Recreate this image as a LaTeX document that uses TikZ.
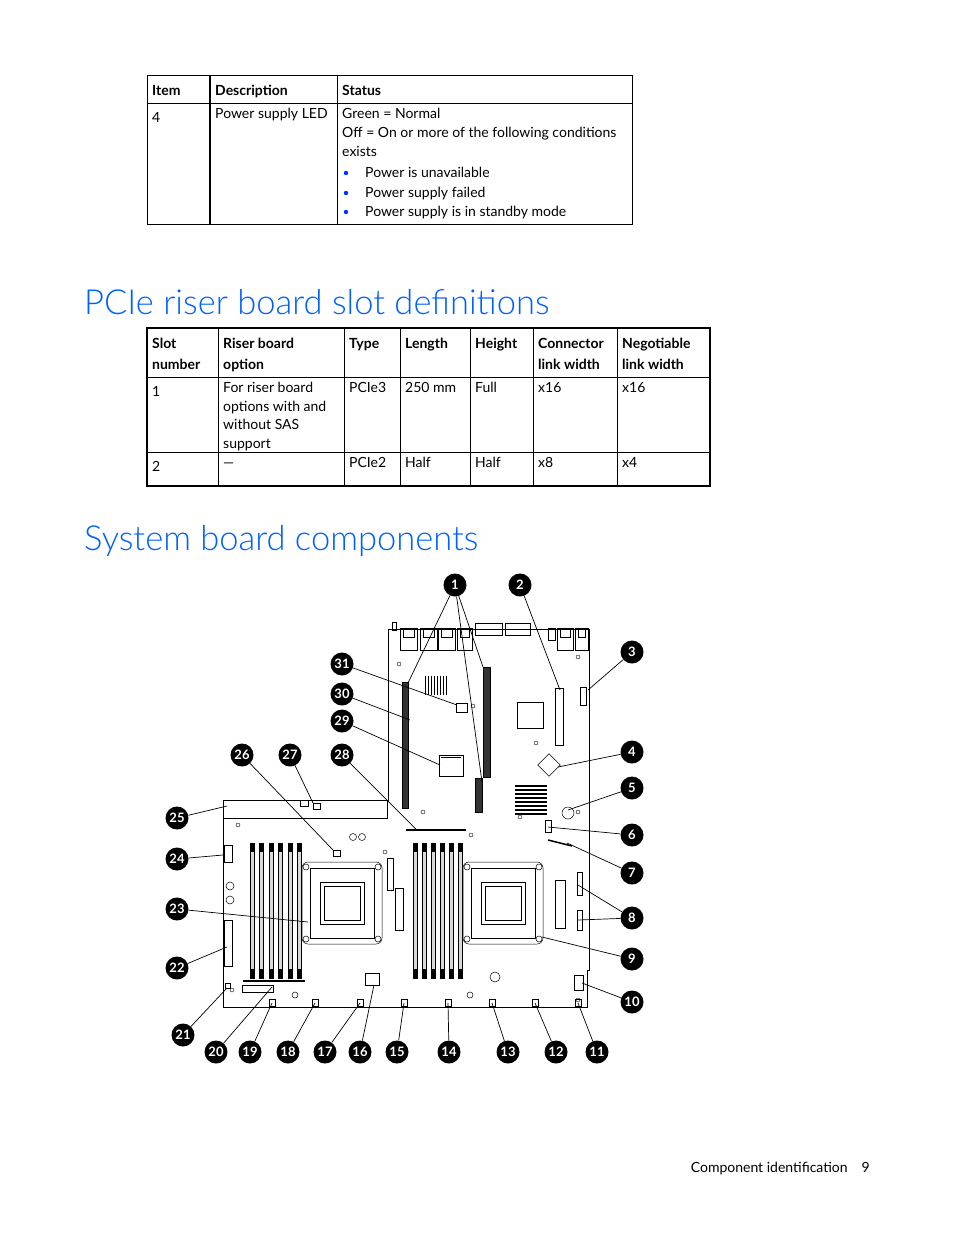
\documentclass[tikz,border=0pt]{standalone}
\usepackage{fontspec}
\setmainfont{Lato}
\newfontfamily\hfont{Lato Light}
\begin{document}
\begin{tikzpicture}[x=1pt,y=-1pt,
  tx/.style={anchor=base west,inner sep=0pt,font=\fontsize{14}{16}\selectfont},
  th/.style={anchor=base west,inner sep=0pt,font=\fontsize{14}{16}\selectfont\bfseries},
  hd/.style={anchor=base west,inner sep=0pt,font=\fontsize{34.5}{38}\selectfont\hfont,text={rgb,255:red,0;green,96;blue,255}},
  call/.style={circle,fill=black,inner sep=0pt,minimum size=23pt,text=white,font=\fontsize{13}{13}\selectfont\bfseries},
  lead/.style={line width=0.7pt},
  pcb/.style={line width=0.8pt},
  part/.style={draw,line width=0.5pt}]
\useasboundingbox (0,0) rectangle (954,1235);
% ---------- table 1
\draw[line width=0.8pt] (147,75) rectangle (632,224);
\draw[line width=0.8pt] (147,103) -- (632,103);
\draw[line width=1.4pt] (210,75) -- (210,224);
\draw[line width=0.6pt] (337,75) -- (337,224);
\node[th] (t1a) at (152,95) {Item};
\node[th] (t1b) at (215,95) {Description};
\node[th] (t1c) at (342,95) {Status};
\node[tx] (t1d) at (152,122) {4};
\node[tx] (t1e) at (215,118) {Power supply LED};
\node[tx] (t1f) at (342,118) {Green = Normal};
\node[tx] (t1g) at (342,137) {Off = On or more of the following conditions};
\node[tx] (t1h) at (342,156) {exists};
\foreach \y/\t [count=\i] in {177/Power is unavailable,197/Power supply failed,216/Power supply is in standby mode}{
  \fill[blue!80!cyan] (346,\y-4) circle (2.2pt);
  \node[tx] (b\i) at (365,\y) {\t};}
% ---------- heading 1
\node[hd] (h1) at (84,314) {PCIe riser board slot definitions};
% ---------- table 2
\draw[line width=1.2pt] (147,328) rectangle (710,486);
\draw[line width=0.8pt] (147,377) -- (710,377) (147,452) -- (710,452);
\foreach \x in {218,344,400,470,533,617} \draw[line width=0.6pt] (\x,328) -- (\x,486);
\node[th] (a1) at (152,348) {Slot};
\node[th] (a2) at (152,369) {number};
\node[th] (a3) at (223,348) {Riser board};
\node[th] (a4) at (223,369) {option};
\node[th] (a5) at (349,348) {Type};
\node[th] (a6) at (405,348) {Length};
\node[th] (a7) at (475,348) {Height};
\node[th] (a8) at (538,348) {Connector};
\node[th] (a9) at (538,369) {link width};
\node[th] (a10) at (622,348) {Negotiable};
\node[th] (a11) at (622,369) {link width};
\node[tx] (r1) at (152,396) {1};
\node[tx] (r2) at (223,392) {For riser board};
\node[tx] (r3) at (223,411) {options with and};
\node[tx] (r4) at (223,429) {without SAS};
\node[tx] (r5) at (223,448) {support};
\node[tx] (r6) at (349,392) {PCIe3};
\node[tx] (r7) at (405,392) {250 mm};
\node[tx] (r8) at (475,392) {Full};
\node[tx] (r9) at (538,392) {x16};
\node[tx] (r10) at (622,392) {x16};
\node[tx] (s1) at (152,471) {2};
\node[tx] (s2) at (223,467) {---};
\node[tx] (s3) at (349,467) {PCIe2};
\node[tx] (s4) at (405,467) {Half};
\node[tx] (s5) at (475,467) {Half};
\node[tx] (s6) at (538,467) {x8};
\node[tx] (s7) at (622,467) {x4};
% ---------- heading 2
\node[hd] (h2) at (84,550) {System board components};
% ---------- board outline
\draw[pcb] (223,800) -- (388,800) -- (388,629) -- (589,629) -- (589,970) -- (587,970) -- (587,1007) -- (223,1007) -- cycle;
% rear ports
\foreach \a/\b in {400/417,420/437,438/455,457/472,557/573,575/588}{
  \draw[part] (\a,628) rectangle (\b,650); \draw[part] (\a+3,628) rectangle (\b-3,637);}
\draw[part] (548,628) rectangle (555,640);
\draw[part] (475,623) rectangle (502,635); \draw[part] (505,623) rectangle (530,635);
\draw[part] (392,622) rectangle (396,630);
% riser connectors
\draw[part,fill=black!80] (402,682) rectangle (408,808);
\draw[part,fill=black!80] (483,667) rectangle (490,777);
\draw[part,fill=black!80] (475,778) rectangle (482,812);
\draw[part] (555,688) rectangle (563,745);
\draw[part] (517,702) rectangle (543,728);
% heatsinks
\foreach \y in {786,790,...,816} \draw[line width=1.6pt] (515,\y) -- (547,\y);
\foreach \x in {425,428,...,446} \draw[line width=1pt] (\x,676) -- (\x,695);
\draw[part] (456,703) rectangle (467,712);
\draw[part] (439,755) rectangle (463,776); \draw[part] (441,757) -- (461,757);
\draw[part,rotate around={45:(549,765)}] (541,757) rectangle (557,773);
\draw[part] (568,813) circle (6pt);
\draw[part] (545,820) rectangle (551,832);
\draw[line width=1.5pt] (548,840) -- (572,846);
\draw[part] (577,872) rectangle (582,895); \draw[part] (577,910) rectangle (582,930);
\draw[part] (555,880) rectangle (565,928);
\draw[part] (580,687) rectangle (586,705);
% left card / fan cable area
\draw[part] (223,800) -- (223,818) -- (387,818) -- (387,800);
\draw[part] (300,800) -- (300,806) -- (308,806) -- (308,800);
\draw[part] (313,803) rectangle (320,809);
% DIMMs
\foreach \x in {250,259.5,...,298} {\draw[part,fill=black!15] (\x,843) rectangle (\x+4,978);
  \fill (\x,843) rectangle (\x+4,852); \fill (\x,969) rectangle (\x+4,978);}
\foreach \x in {413,422,...,459} {\draw[part,fill=black!15] (\x,843) rectangle (\x+4,978);
  \fill (\x,843) rectangle (\x+4,852); \fill (\x,969) rectangle (\x+4,978);}
\draw[line width=2.2pt] (243,981) -- (305,981);
\draw[line width=2.2pt] (406,830) -- (466,830);
% CPU sockets
\foreach \cx in {342,503}{
  \draw[part,rounded corners=6pt] (\cx-40,862) rectangle (\cx+40,944);
  \draw[part] (\cx-32,868) rectangle (\cx+32,938);
  \draw[part] (\cx-22,882) rectangle (\cx+22,924);
  \draw[part] (\cx-18,886) rectangle (\cx+18,920);
  \foreach \dx/\dy in {-36/-36,36/-36,-36/36,36/36} \draw[part] (\cx+\dx,903+\dy) circle (3pt);}
% misc
\draw[part] (333,850) rectangle (340,856);
\draw[part] (387,858) rectangle (393,890); \draw[part] (395,888) rectangle (403,930);
\draw[part] (365,973) rectangle (379,985);
\draw[part] (224,845) rectangle (232,862); \draw[part] (224,920) rectangle (232,966);
\draw[part] (230,886) circle (4pt); \draw[part] (230,900) circle (4pt);
\draw[part] (353,837) circle (3.5pt); \draw[part] (362,837) circle (3.5pt);
\draw[part] (495,977) circle (5pt); \draw[part] (470,995) circle (3pt); \draw[part] (295,995) circle (3pt);
\draw[part] (242,985) rectangle (273,992);
\draw[part] (225,983) rectangle (230,988);
\draw[part] (574,975) rectangle (583,990);
\foreach \x in {272,315,360,404,448,492,535,578} \draw[part] (\x-3,999) rectangle (\x+3,1006);
\foreach \p in {(399,664),(578,657),(473,706),(536,743),(423,812),(520,817),(471,835),(238,825),(232,990),(578,1000),(385,852),(578,812)} \draw[line width=0.4pt] \p circle (2pt);
% callouts
\foreach \n/\x/\y in {1/455/585,2/520/585,3/632/652,31/342/664,30/342/694,29/342/721,4/632/752,26/242/755,27/290/755,28/342/755,5/632/788,25/177/818,6/632/835,24/177/859,7/632/873,23/177/909,8/632/918,9/632/959,22/177/968,10/632/1002,21/183/1035,20/216/1052,19/250/1052,18/288/1052,17/325/1052,16/360/1052,15/397/1052,14/449/1052,13/508/1052,12/556/1052,11/597/1052}
  \node[call] (c\n) at (\x,\y) {\n};
\foreach \n/\x/\y in {1a/408/683,1b/483/667,1c/482/782,2/560/690,3/588/690,31/457/705,30/410/720,29/440/765,4/558/767,26/333/850,27/313/803,28/417/830,5/568/810,25/227/806,6/548/827,24/223/855,7/567/843,23/308/922,8a/578/885,8b/578/920,9/542/937,22/227/947,10/582/983,21/227/988,20/272/987,19/272/1003,18/315/1003,17/360/1003,16/374/985,15/404/1003,14/448/1003,13/492/1003,12/535/1003,11/578/1003}
  \coordinate (p\n) at (\x,\y);
\draw[lead] (c1) -- (p1a) (c1) -- (p1b) (c1) -- (p1c);
\draw[lead] (c8) -- (p8a) (c8) -- (p8b);
\foreach \n in {2,3,31,30,29,4,26,27,28,5,25,6,24,7,23,9,22,10,21,20,19,18,17,16,15,14,13,12,11}
  \draw[lead] (c\n) -- (p\n);
% footer
\node[tx,anchor=base east] (ft) at (870,1172) {Component identification\hspace{14pt}9};
\end{tikzpicture}
\end{document}
